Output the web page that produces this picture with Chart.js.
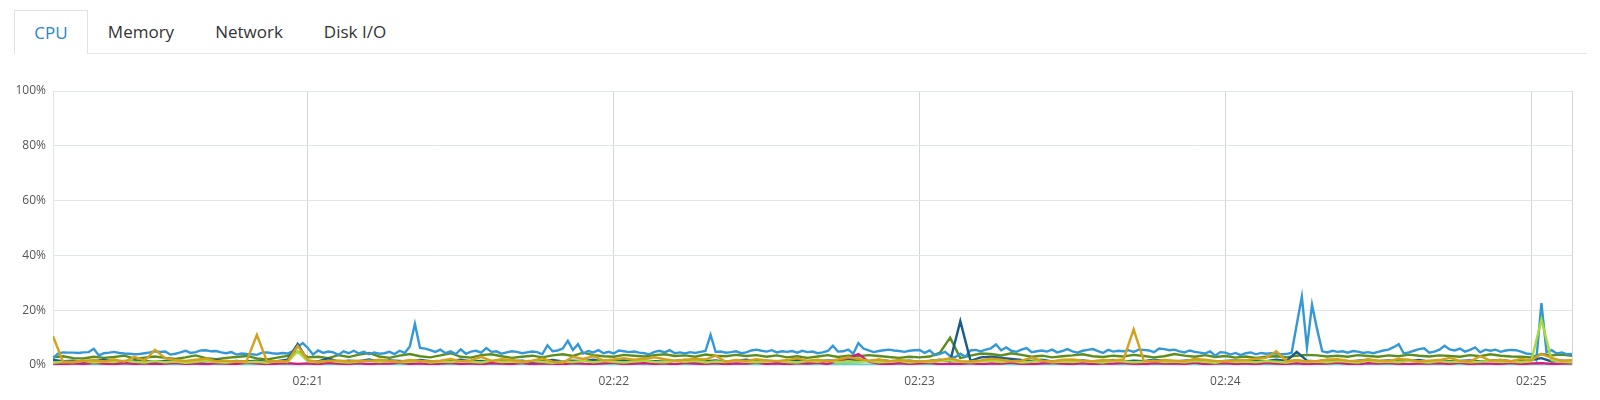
<!DOCTYPE html>
<html>
<head>
<meta charset="utf-8">
<title>CPU</title>
<script src="https://cdn.jsdelivr.net/npm/chart.js@4.4.1/dist/chart.umd.min.js"></script>
<style>
  body { margin: 0; width: 1600px; height: 400px; background: #fff; overflow: hidden; position: relative; font-family: "Open Sans", sans-serif; }
  .tabs { position: absolute; left: 14px; top: 10px; width: 1573px; height: 43px; border-bottom: 1px solid #e6e8ea; }
  .tab { position: absolute; top: 0; width: 100px; height: 43px; line-height: 43px; text-align: center; font-size: 17px; color: #333; }
  .tab.active { left: 0; width: 74px; height: 44px; box-sizing: border-box; border: 1px solid #e0e3e6; border-bottom: none; background: #fff; color: #2a87c8; }
  #cpuChart { position: absolute; left: 0; top: 0; }
</style>
</head>
<body>
<div class="tabs">
  <div class="tab active">CPU</div>
  <div class="tab" style="left:77px">Memory</div>
  <div class="tab" style="left:185px">Network</div>
  <div class="tab" style="left:291px">Disk I/O</div>
</div>
<canvas id="cpuChart" width="1600" height="400"></canvas>
<script>
// seconds after 02:20:00
var startSec = 10;
var endSec = 308;
var tickSecs = [60, 120, 180, 240, 300];
var tickLabels = ["02:21", "02:22", "02:23", "02:24", "02:25"];

// one sample per second
var blueCpu = [
  2.5, 4.2, 4.6, 4.5, 4.5, 4.4, 4.6, 4.7, 5.9, 3.5,
  4.3, 4.5, 4.8, 4.4, 4.2, 4.1, 3.9, 4.0, 4.3, 4.6,
  5.0, 4.8, 4.9, 3.8, 4.1, 4.6, 5.2, 4.4, 4.7, 5.3,
  5.4, 5.0, 5.1, 4.6, 4.3, 4.7, 3.8, 4.2, 4.0, 3.9,
  3.7, 4.5, 4.6, 4.3, 4.1, 4.4, 4.2, 5.0, 6.6, 8.0,
  6.2, 3.8, 5.3, 4.4, 4.9, 4.6, 3.7, 5.0, 4.3, 5.2,
  4.2, 4.8, 3.9, 4.6, 4.1, 4.3, 4.8, 4.0, 5.2, 4.4,
  6.8, 15.0, 6.2, 6.0, 5.4, 4.8, 5.6, 4.3, 5.0, 4.0,
  5.7, 4.1, 4.9, 5.2, 4.5, 6.2, 4.8, 5.0, 4.1, 4.6,
  5.0, 4.8, 4.3, 4.6, 4.9, 4.7, 3.9, 7.2, 5.0, 5.3,
  6.0, 8.8, 5.5, 7.6, 4.2, 5.1, 4.6, 5.4, 4.3, 4.8,
  4.2, 5.3, 5.0, 4.7, 4.9, 4.5, 4.3, 3.9, 4.8, 5.2,
  4.6, 5.4, 4.3, 4.6, 4.2, 4.7, 4.4, 4.8, 5.1, 11.0,
  4.8, 4.9, 4.5, 4.7, 5.0, 4.3, 4.6, 5.3, 5.6, 5.2,
  4.9, 5.4, 4.6, 5.0, 4.8, 5.1, 4.5, 5.2, 4.7, 4.9,
  4.3, 4.6, 5.1, 7.0, 4.9, 5.0, 5.6, 4.1, 8.0, 6.0,
  5.3, 4.7, 5.1, 5.4, 5.6, 5.3, 5.1, 4.8, 5.2, 5.4,
  5.5, 4.4, 5.3, 3.6, 4.1, 4.8, 3.2, 2.8, 4.1, 3.0,
  5.3, 5.5, 5.0, 5.6, 6.1, 7.5, 5.4, 6.4, 5.2, 4.8,
  5.6, 6.2, 4.7, 5.0, 5.3, 4.9, 5.6, 4.6, 5.1, 5.8,
  5.0, 4.5, 5.2, 5.5, 5.8, 5.1, 4.4, 5.5, 4.9, 5.2,
  5.0, 5.4, 4.8, 5.6, 5.5, 5.3, 4.7, 6.0, 5.8, 5.4,
  5.6, 5.0, 4.6, 5.3, 4.8, 4.5, 4.2, 5.0, 3.4, 4.7,
  4.5, 3.8, 4.4, 3.6, 4.3, 4.6, 3.9, 4.4, 4.1, 4.3,
  4.2, 3.9, 4.0, 4.5, 14.8, 25.0, 6.3, 22.0, 13.0, 5.0,
  4.6, 5.2, 4.8, 5.0, 4.5, 5.1, 4.9, 4.4, 4.7, 4.3,
  4.8, 5.3, 5.6, 6.5, 7.6, 4.2, 4.6, 5.2, 5.8, 6.1,
  4.5, 4.9, 5.6, 7.0, 5.7, 5.3, 6.0, 4.9, 5.5, 6.4,
  4.6, 5.6, 5.2, 5.6, 4.8, 5.3, 5.5, 5.4, 4.9, 4.2,
  4.0, 1.8, 22.6, 4.7, 5.4, 4.2, 4.6, 3.9, 4.0
];

// one sample every 2 seconds
var goldCpu = [
  10.5, 1.0, 1.2, 1.5, 1.8, 1.3, 2.0, 1.2, 3.0, 1.6,
  5.5, 2.5, 1.8, 1.5, 1.9, 2.3, 1.4, 1.6, 1.2, 1.5,
  11.0, 1.2, 1.4, 1.3, 7.0, 1.8, 1.2, 1.5, 1.7, 1.3,
  1.6, 1.4, 1.9, 1.5, 1.2, 1.8, 1.5, 1.3, 1.6, 2.2,
  1.4, 1.7, 3.0, 1.5, 2.1, 1.8, 1.3, 1.6, 2.4, 1.2,
  0.8, 3.0, 2.2, 3.2, 1.7, 2.0, 2.5, 1.9, 2.3, 2.8,
  2.1, 1.6, 1.9, 2.2, 2.0, 3.4, 1.2, 1.8, 1.5, 2.1,
  1.7, 1.4, 1.8, 2.4, 1.6, 1.9, 1.3, 2.0, 2.8, 2.2,
  1.6, 2.0, 1.4, 1.8, 1.5, 1.2, 1.6, 1.8, 2.5, 1.4,
  1.3, 1.7, 2.3, 1.9, 1.4, 1.6, 2.7, 1.5, 1.3, 1.9,
  2.0, 1.6, 1.4, 1.8, 1.7, 2.0, 13.0, 1.5, 1.3, 1.8,
  1.6, 1.4, 2.2, 1.9, 1.5, 1.3, 1.7, 1.8, 2.3, 2.6,
  5.0, 1.4, 1.8, 1.3, 1.5, 1.9, 2.1, 1.6, 1.4, 2.0,
  1.7, 1.5, 2.2, 1.9, 1.3, 1.6, 1.8, 2.6, 1.5, 1.3,
  3.2, 1.6, 1.8, 1.4, 2.2, 1.7, 4.0, 2.6, 1.5, 1.8
];
var oliveCpu = [
  2.8, 3.2, 2.5, 2.4, 3.0, 2.6, 2.9, 3.4, 2.3, 2.7,
  3.1, 2.6, 2.2, 2.8, 3.5, 2.5, 2.1, 2.6, 2.9, 3.3,
  2.4, 2.0, 2.7, 3.3, 5.0, 2.8, 3.0, 2.5, 3.6, 2.9,
  3.8, 4.4, 3.1, 2.6, 3.4, 4.0, 3.2, 2.8, 3.5, 4.3,
  3.0, 2.7, 3.6, 3.9, 3.2, 2.6, 3.0, 3.4, 2.8, 3.5,
  3.9, 3.3, 4.5, 3.6, 3.2, 3.0, 3.7, 3.4, 3.1, 3.6,
  3.9, 3.3, 3.5, 3.0, 3.8, 3.4, 3.2, 3.7, 3.3, 3.6,
  3.0, 3.5, 2.8, 3.2, 2.6, 3.1, 3.6, 2.9, 3.4, 3.2,
  3.6, 3.3, 2.9, 2.6, 3.0, 2.8, 3.1, 4.5, 10.0, 2.5,
  3.4, 4.2, 4.0, 3.5, 4.3, 3.7, 3.0, 3.4, 2.8, 3.2,
  3.5, 3.9, 3.2, 2.9, 3.4, 3.1, 3.7, 3.3, 2.8, 3.2,
  4.0, 3.4, 3.0, 3.6, 2.9, 3.3, 2.7, 3.1, 2.6, 3.0,
  3.2, 2.8, 3.4, 3.7, 3.5, 3.1, 3.4, 3.0, 3.6, 3.3,
  3.0, 3.5, 3.2, 3.8, 3.4, 3.1, 3.5, 3.3, 3.0, 3.6,
  3.2, 3.9, 3.4, 3.1, 3.0, 2.8, 4.0, 3.5, 3.8, 3.4
];
var navyCpu = [
  1.8, 1.4, 1.6, 1.2, 1.5, 1.9, 1.3, 1.1, 1.6, 1.4,
  1.2, 1.5, 1.7, 1.3, 1.0, 1.4, 1.8, 1.2, 1.5, 1.3,
  1.6, 1.1, 1.4, 1.9, 7.7, 1.5, 1.3, 2.4, 1.2, 1.6,
  1.4, 2.0, 1.3, 1.7, 1.5, 1.2, 1.8, 1.4, 1.1, 1.6,
  1.9, 1.3, 1.5, 1.2, 1.7, 1.4, 1.6, 1.1, 1.5, 1.8,
  1.3, 1.6, 1.4, 1.9, 1.2, 1.5, 1.7, 1.3, 1.6, 1.4,
  1.2, 1.5, 1.8, 1.3, 1.4, 1.7, 1.2, 1.6, 1.9, 1.4,
  1.6, 1.3, 1.5, 1.8, 1.2, 1.4, 1.7, 1.5, 2.2, 1.6,
  1.4, 1.8, 1.5, 1.3, 1.6, 1.2, 1.5, 1.9, 1.4, 16.0,
  1.5, 2.8, 3.0, 2.6, 2.2, 1.8, 1.5, 1.9, 1.3, 1.6,
  1.4, 1.7, 1.3, 1.5, 1.8, 1.2, 1.6, 1.4, 1.9, 1.5,
  1.3, 1.6, 1.8, 1.4, 1.2, 1.5, 1.7, 1.3, 1.6, 1.4,
  1.9, 1.5, 4.8, 1.6, 1.3, 1.8, 1.5, 1.2, 1.6, 1.9,
  1.4, 1.7, 1.3, 1.5, 1.8, 1.2, 1.6, 1.4, 1.5, 1.7,
  1.3, 1.6, 1.8, 1.4, 1.5, 1.9, 2.5, 1.3, 1.6, 1.4
];
var limeCpu = [
  0.8, 1.2, 1.0, 1.5, 0.9, 1.3, 1.1, 1.6, 1.2, 0.9,
  1.4, 1.0, 1.3, 0.8, 1.2, 1.5, 1.1, 0.9, 1.3, 1.0,
  1.2, 0.8, 1.4, 1.1, 5.0, 1.3, 1.0, 1.5, 1.2, 0.9,
  1.3, 1.6, 1.1, 1.4, 1.0, 1.2, 1.5, 0.9, 1.3, 1.1,
  1.4, 1.2, 0.9, 1.6, 1.1, 1.3, 1.0, 1.5, 1.2, 0.8,
  1.3, 1.1, 1.5, 1.0, 1.4, 1.2, 0.9, 1.3, 1.6, 1.1,
  1.0, 1.4, 1.2, 1.5, 0.9, 1.3, 1.1, 1.6, 1.2, 1.0,
  1.3, 1.5, 1.1, 0.9, 1.4, 1.2, 1.6, 1.0, 1.3, 1.1,
  1.4, 1.0, 1.2, 1.5, 0.9, 1.3, 1.1, 1.4, 1.7, 1.2,
  1.0, 1.3, 1.5, 1.1, 1.4, 0.9, 1.2, 1.6, 1.0, 1.3,
  1.1, 1.4, 1.2, 0.9, 1.5, 1.3, 1.0, 1.2, 1.6, 1.1,
  1.3, 1.0, 1.4, 1.2, 0.8, 1.5, 1.1, 1.3, 1.0, 1.4,
  1.2, 0.9, 1.5, 1.1, 1.3, 1.0, 1.4, 1.2, 0.9, 1.6,
  1.1, 1.3, 1.0, 1.5, 1.2, 0.9, 1.4, 1.1, 1.3, 1.0,
  1.2, 1.5, 1.1, 1.3, 1.0, 1.4, 16.5, 1.8, 1.2, 1.0
];
var pinkCpu = [
  0.5, 0.3, 0.6, 0.4, 0.8, 0.5, 0.3, 0.7, 0.4, 0.6,
  0.3, 0.5, 0.8, 0.4, 0.6, 0.3, 0.7, 0.5, 0.4, 0.9,
  0.6, 0.3, 0.5, 0.7, 0.4, 0.6, 0.3, 0.8, 0.5, 0.4,
  0.7, 0.3, 0.6, 0.5, 0.9, 0.4, 0.6, 0.3, 0.5, 0.8,
  0.4, 0.6, 0.3, 0.7, 0.5, 0.4, 0.8, 0.3, 0.6, 0.5,
  0.3, 0.7, 0.5, 0.4, 0.6, 0.9, 0.3, 0.5, 0.7, 0.4,
  0.6, 0.3, 0.8, 0.5, 0.4, 0.7, 0.3, 0.6, 0.5, 0.9,
  0.4, 0.6, 0.3, 0.7, 0.5, 0.8, 0.4, 1.5, 2.5, 4.0,
  1.2, 0.5, 0.3, 0.7, 0.4, 0.6, 0.8, 0.3, 0.5, 0.4,
  0.7, 0.3, 0.6, 0.5, 0.9, 0.4, 0.3, 0.6, 0.8, 0.5,
  0.4, 0.7, 0.3, 0.6, 0.5, 0.8, 0.4, 0.3, 0.7, 0.5,
  0.6, 0.4, 0.9, 0.3, 0.5, 0.7, 0.4, 0.6, 0.3, 0.8,
  0.5, 0.4, 0.7, 0.3, 0.6, 0.5, 0.9, 0.4, 0.3, 0.7,
  0.5, 0.8, 0.4, 0.3, 0.6, 0.5, 0.7, 0.4, 0.9, 0.3,
  0.6, 0.5, 0.4, 0.8, 0.3, 0.6, 0.7, 0.4, 0.5, 0.6
];
var cyanCpu = [
  0.3, 0.2, 0.4, 0.1, 0.3, 0.5, 0.2, 0.3, 0.1, 0.4,
  0.2, 0.3, 0.1, 0.4, 0.2, 0.5, 0.3, 0.1, 0.2, 0.4,
  0.3, 0.1, 0.2, 0.5, 0.3, 0.2, 0.4, 0.1, 0.3, 0.2,
  0.4, 0.2, 0.3, 0.1, 0.2, 0.4, 0.3, 0.5, 0.2, 0.1,
  0.3, 0.4, 0.2, 0.1, 0.3, 0.2, 0.5, 0.3, 0.1, 0.4,
  0.2, 0.3, 0.1, 0.4, 0.2, 0.3, 0.5, 0.2, 0.1, 0.3,
  0.4, 0.2, 0.3, 0.1, 0.5, 0.2, 0.3, 0.4, 0.2, 0.1,
  0.3, 0.2, 0.4, 0.1, 0.3, 0.6, 0.2, 0.4, 0.3, 0.2,
  0.1, 0.3, 0.2, 0.4, 0.5, 0.2, 0.3, 0.1, 0.4, 0.6,
  0.3, 0.2, 0.1, 0.3, 0.4, 0.2, 0.5, 0.3, 0.1, 0.2,
  0.4, 0.3, 0.2, 0.1, 0.3, 0.5, 0.2, 0.4, 0.3, 0.1,
  0.2, 0.4, 0.3, 0.1, 0.2, 0.3, 0.5, 0.2, 0.4, 0.1,
  0.3, 0.2, 0.4, 0.5, 0.2, 0.1, 0.3, 0.4, 0.2, 0.3,
  0.1, 0.4, 0.2, 0.3, 0.5, 0.2, 0.1, 0.3, 0.4, 0.2,
  0.3, 0.1, 0.2, 0.4, 0.3, 0.2, 0.6, 0.3, 0.2, 0.4
];

function toPoints(values, step) {
  return values.map(function (v, i) { return { x: startSec + i * step, y: v }; });
}

function line(label, values, step, color) {
  return {
    label: label,
    data: toPoints(values, step),
    borderColor: color,
    backgroundColor: color,
    borderWidth: 2.4,
    pointRadius: 0,
    tension: 0,
    fill: false
  };
}

// right edge of the plot box
var frame = {
  id: 'frame',
  beforeDatasetsDraw: function (chart) {
    var a = chart.chartArea, c = chart.ctx;
    c.save();
    c.strokeStyle = '#d3d5d9';
    c.lineWidth = 1;
    c.beginPath();
    c.moveTo(Math.round(a.right) + 0.5, a.top);
    c.lineTo(Math.round(a.right) + 0.5, a.bottom);
    c.stroke();
    c.restore();
  }
};

var ctx = document.getElementById('cpuChart').getContext('2d');
var cpuChart = new Chart(ctx, {
  type: 'line',
  data: {
    datasets: [
      line('gold', goldCpu, 2, '#d4a01e'),
      line('lime', limeCpu, 2, '#a9dc3a'),
      line('pink', pinkCpu, 2, '#d61c7b'),
      line('navy', navyCpu, 2, '#1d5b88'),
      line('blue', blueCpu, 1, '#3598d6'),
      line('olive', oliveCpu, 2, '#5b8e1d'),
      line('cyan', cyanCpu, 2, '#5fd3d6')
    ]
  },
  options: {
    responsive: false,
    animation: false,
    layout: { padding: { left: 0, right: 28, top: 91, bottom: 0 } },
    plugins: { legend: { display: false }, tooltip: { enabled: false } },
    scales: {
      x: {
        type: 'linear',
        min: startSec,
        max: endSec,
        afterFit: function (s) { s.height = 35; },
        afterBuildTicks: function (s) { s.ticks = tickSecs.map(function (v) { return { value: v }; }); },
        ticks: {
          autoSkip: false,
          maxRotation: 0,
          padding: 9,
          color: '#555',
          font: { family: 'Open Sans', size: 12 },
          callback: function (v) { return tickLabels[tickSecs.indexOf(v)]; }
        },
        grid: { color: '#d4d5d9', drawTicks: false },
        border: { display: false }
      },
      y: {
        min: 0,
        max: 100,
        afterFit: function (s) { s.width = 53; },
        ticks: {
          stepSize: 20,
          padding: 7,
          color: '#555',
          font: { family: 'Open Sans', size: 12 },
          callback: function (v) { return v + '%'; }
        },
        grid: { color: '#e0e5ec', drawTicks: false },
        border: { color: '#dfe4eb' }
      }
    }
  },
  plugins: [frame]
});
</script>
</body>
</html>
